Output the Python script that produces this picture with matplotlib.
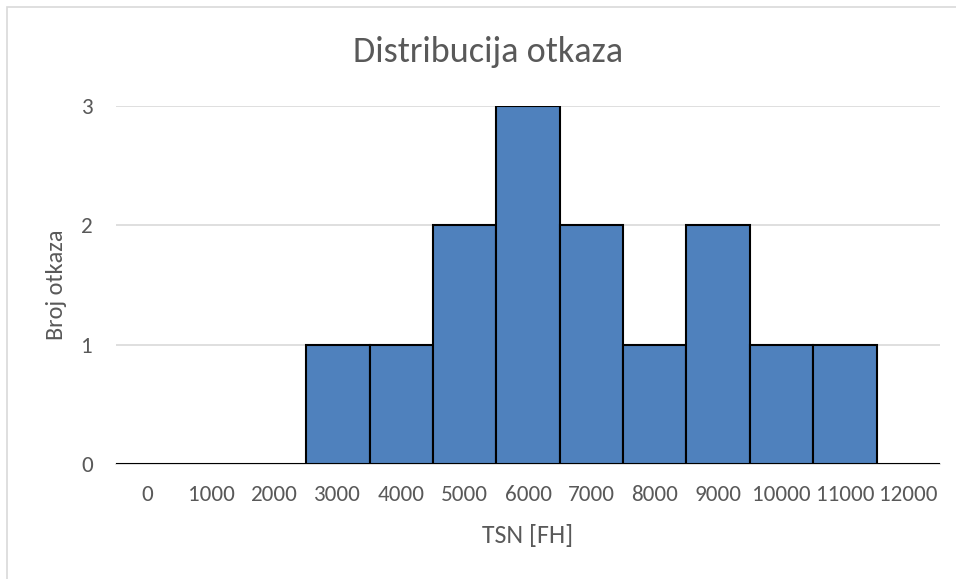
import matplotlib
matplotlib.use("Agg")
import matplotlib.pyplot as plt
from matplotlib.patches import Rectangle

categories = ["0", "1000", "2000", "3000", "4000", "5000", "6000", "7000",
              "8000", "9000", "10000", "11000", "12000"]
counts = [0, 0, 0, 1, 1, 2, 3, 2, 1, 2, 1, 1, 0]
yticks = [0, 1, 2, 3]

plt.rcParams['font.family'] = ['Carlito', 'DejaVu Sans']
txt = '#595959'

fig = plt.figure(figsize=(9.56, 5.79), dpi=100)
ax = fig.add_axes([116/956, 1-464/579, (940-116)/956, (464-106)/579])

x = list(range(len(categories)))
ax.bar(x, counts, width=1.0, color='#4F81BD', edgecolor='black', linewidth=1.5, zorder=3)
ax.set_xlim(-0.5, len(categories)-0.5)
ax.set_ylim(0, 3)
ax.set_yticks(yticks)
ax.set_xticks(x)
ax.set_xticklabels(categories)
ax.grid(axis='y', color='#D9D9D9', linewidth=1.2, zorder=0)
ax.set_axisbelow(True)
for s in ['top', 'right', 'left']:
    ax.spines[s].set_visible(False)
ax.spines['bottom'].set_color('#D9D9D9')
ax.spines['bottom'].set_linewidth(1.2)
ax.tick_params(axis='both', length=0, colors=txt, labelsize=16.7)
ax.tick_params(axis='x', pad=15)
ax.tick_params(axis='y', pad=16.5)
ax.set_xlabel('TSN [FH]', fontsize=18.7, color=txt)
ax.xaxis.set_label_coords(0.5, -(543-464)/(464-106), transform=ax.transAxes)
ax.xaxis.label.set_va('baseline')
ax.set_ylabel('Broj otkaza', fontsize=17.5, color=txt)
ax.yaxis.set_label_coords((57-116)/(940-116), 0.5, transform=ax.transAxes)
ax.yaxis.label.set_va('center')
fig.text(488/956, 1-62/579, 'Distribucija otkaza', ha='center', va='baseline',
         fontsize=26, color=txt)

fig.patches.append(Rectangle((7/956, -0.1), 1.2, 1.1-7/579, transform=fig.transFigure,
                             fill=False, edgecolor='#D9D9D9', linewidth=1.2))

fig.savefig('out.png', dpi=100)
